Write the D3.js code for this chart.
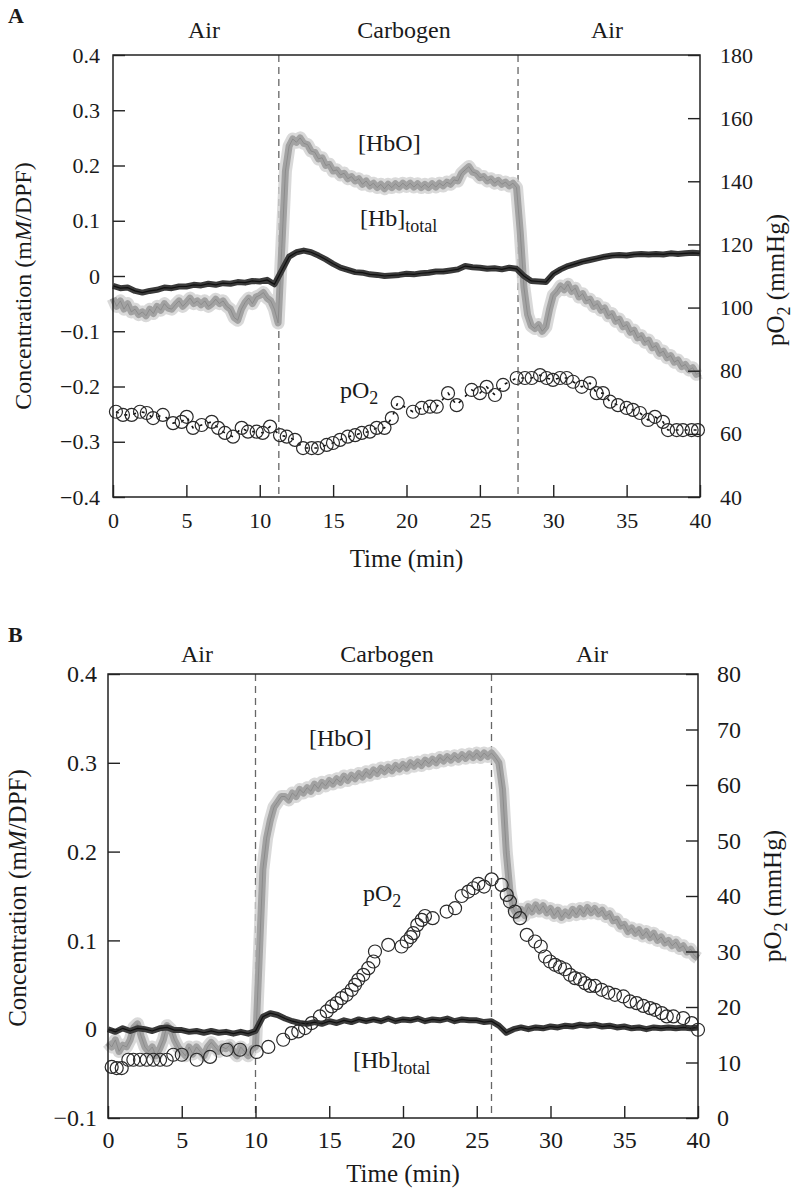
<!DOCTYPE html>
<html>
<head>
<meta charset="utf-8">
<script src="https://cdn.jsdelivr.net/npm/d3@7"></script>
<style>
html, body { margin: 0; padding: 0; background: #fff; }
svg text { font-family: "Liberation Serif", "Times New Roman", serif; fill: #1a1a1a; }
</style>
</head>
<body>
<svg id="chart" width="797" height="1192"></svg>
<script>
/*
 * Sampling intervals of the traces (min)
 */
var HBO_STEP = 0.25,
    HBT_STEP = 0.5;

/*
 * Panel A data
 */
var hboA = [
    -0.040, -0.055, -0.045, -0.060, -0.050, -0.065, -0.060, -0.070,
    -0.065, -0.072, -0.060, -0.068, -0.055, -0.062, -0.050, -0.058,
    -0.060, -0.052, -0.045, -0.055, -0.048, -0.040, -0.050, -0.045,
    -0.052, -0.045, -0.055, -0.050, -0.042, -0.050, -0.045, -0.055,
    -0.060, -0.075, -0.080, -0.060, -0.048, -0.040, -0.050, -0.038,
    -0.035, -0.030, -0.040, -0.045, -0.060, -0.085,
    0.050, 0.190, 0.235, 0.248, 0.242, 0.250, 0.240, 0.238,
    0.226, 0.224, 0.212, 0.214, 0.200, 0.202, 0.190, 0.192,
    0.183, 0.186, 0.176, 0.180, 0.172, 0.176, 0.166, 0.172,
    0.163, 0.168, 0.160, 0.166, 0.158, 0.166, 0.160, 0.167,
    0.161, 0.168, 0.162, 0.168, 0.161, 0.167, 0.160, 0.166,
    0.160, 0.167, 0.161, 0.168, 0.163, 0.170, 0.166, 0.174,
    0.172, 0.186, 0.192, 0.198, 0.188, 0.186, 0.178, 0.180,
    0.172, 0.176, 0.168, 0.173, 0.166, 0.170, 0.163, 0.168, 0.160,
    0.080, -0.020, -0.070, -0.090, -0.095, -0.088, -0.100, -0.092,
    -0.060, -0.035, -0.028, -0.018, -0.025, -0.015, -0.028, -0.022,
    -0.038, -0.032, -0.045, -0.042, -0.055, -0.050, -0.062, -0.058,
    -0.072, -0.068, -0.082, -0.078, -0.092, -0.088, -0.102, -0.098,
    -0.112, -0.108, -0.120, -0.116, -0.130, -0.126, -0.140, -0.136,
    -0.148, -0.144, -0.156, -0.152, -0.164, -0.160, -0.170, -0.166,
    -0.178, -0.175
];
var hbtA = [
    -0.018, -0.022, -0.021, -0.027, -0.030, -0.027, -0.025, -0.021,
    -0.022, -0.019, -0.019, -0.016, -0.017, -0.014, -0.016, -0.013,
    -0.014, -0.011, -0.012, -0.009, -0.010, -0.007, -0.015,
    0.010, 0.035, 0.043, 0.046, 0.043, 0.037, 0.030, 0.022, 0.015, 0.011,
    0.007, 0.006, 0.003, 0.002, 0.000, 0.001, 0.002, 0.004, 0.003, 0.005,
    0.006, 0.008, 0.008, 0.010, 0.012, 0.018, 0.016, 0.015, 0.013, 0.014,
    0.012, 0.015, 0.013, 0.000, -0.009, -0.010, -0.011, 0.004, 0.012, 0.018,
    0.022, 0.026, 0.029, 0.032, 0.035, 0.037, 0.038, 0.037, 0.039, 0.040,
    0.039, 0.040, 0.039, 0.041, 0.040, 0.041, 0.042, 0.041
];
var po2TimeA = [
    0.2, 0.68, 1.27, 1.84, 2.3, 2.73, 3.4, 4.09, 4.68, 5.02,
    5.45, 6.04, 6.73, 7.16, 7.63, 8.18, 8.77, 9.2, 9.79, 10.2,
    10.7, 11.38, 11.84, 12.4, 12.95, 13.54, 13.97, 14.56, 14.99, 15.47,
    16.0, 16.5, 16.95, 17.5, 17.97, 18.5, 19.0, 19.4, 20.44, 21.04,
    21.6, 22.06, 22.83, 23.42, 24.44, 25.0, 25.46, 26.03, 26.58, 27.51,
    28.07, 28.53, 29.1, 29.55, 29.98, 30.46, 30.92, 31.35, 31.94, 32.5,
    32.96, 33.39, 33.87, 34.41, 35.0, 35.43, 35.91, 36.46, 36.93, 37.48,
    37.82, 38.41, 38.84, 39.43, 39.86
];
var po2A = [
    67.0, 66.0, 66.0, 67.0, 66.6, 65.0, 66.0, 63.4, 63.8, 65.4,
    61.9, 62.8, 63.8, 61.9, 60.3, 59.1, 61.9, 60.7, 60.7, 60.3,
    62.3, 59.6, 59.1, 58.1, 55.5, 55.5, 55.5, 56.5, 57.1, 58.1,
    59.1, 59.6, 60.3, 60.7, 61.9, 61.9, 65.0, 69.8, 67.0, 68.2,
    68.6, 68.6, 72.9, 69.1, 73.9, 72.9, 74.9, 72.3, 75.5, 77.7,
    77.7, 77.7, 78.6, 77.7, 77.1, 77.7, 77.7, 76.5, 74.9, 76.1,
    72.9, 72.9, 70.2, 69.1, 68.2, 67.6, 66.6, 64.4, 65.4, 63.8,
    61.2, 61.2, 61.2, 61.2, 61.2
];
var switchA = [11.3, 27.6];

/*
 * Panel B data
 */
var hboB = [
    -0.015, -0.020, -0.012, -0.025, -0.018, -0.020, -0.012, 0.002,
    0.006, -0.008, -0.020, -0.025, -0.020, -0.030, -0.022, -0.012,
    0.004, 0.000, -0.012, -0.020, -0.025, -0.030, -0.020, -0.028,
    -0.020, -0.025, -0.030, -0.020, -0.015, -0.020, -0.025, -0.020,
    -0.022, -0.018, -0.025, -0.030, -0.020, -0.025, -0.030, -0.022,
    -0.020, 0.080, 0.180, 0.215, 0.235, 0.250, 0.256, 0.262,
    0.262, 0.258, 0.266, 0.262, 0.270, 0.266, 0.272, 0.268,
    0.276, 0.271, 0.278, 0.274, 0.280, 0.276, 0.282, 0.278,
    0.285, 0.280, 0.286, 0.282, 0.288, 0.284, 0.290, 0.286,
    0.292, 0.288, 0.294, 0.290, 0.295, 0.291, 0.297, 0.293,
    0.298, 0.294, 0.300, 0.296, 0.301, 0.297, 0.303, 0.299,
    0.304, 0.300, 0.306, 0.302, 0.307, 0.303, 0.308, 0.304,
    0.309, 0.305, 0.310, 0.306, 0.311, 0.306, 0.311, 0.307,
    0.311, 0.306,
    0.300, 0.270, 0.200, 0.155, 0.135, 0.128,
    0.135, 0.128, 0.138, 0.132, 0.140, 0.133, 0.139, 0.131,
    0.136, 0.128, 0.134, 0.126, 0.132, 0.128, 0.135, 0.129,
    0.136, 0.130, 0.137, 0.131, 0.136, 0.130, 0.134, 0.127,
    0.130, 0.122, 0.124, 0.116, 0.118, 0.110, 0.114, 0.108,
    0.112, 0.105, 0.110, 0.103, 0.108, 0.100, 0.104, 0.097,
    0.100, 0.094, 0.098, 0.091, 0.094, 0.087, 0.090, 0.083,
    0.080
];
var hbtB = [
    0.000, -0.003, 0.001, -0.002, 0.001, 0.000, -0.002, 0.001, 0.002,
    -0.001, -0.001, -0.003, -0.002, -0.004, -0.002, -0.004, -0.003,
    -0.005, -0.003, -0.005, -0.002,
    0.014, 0.018, 0.016, 0.012, 0.009, 0.007, 0.006, 0.008, 0.006, 0.009,
    0.007, 0.010, 0.008, 0.011, 0.009, 0.011, 0.009, 0.012, 0.009, 0.011,
    0.010, 0.012, 0.009, 0.011, 0.010, 0.012, 0.009, 0.011, 0.010, 0.010,
    0.008, 0.009, 0.004, -0.004, 0.000, 0.002, 0.000, 0.002, 0.001, 0.003,
    0.002, 0.004, 0.003, 0.005, 0.004, 0.005, 0.003, 0.004, 0.002, 0.003,
    0.001, 0.002, 0.000, 0.002, 0.001, 0.002, 0.001, 0.002, 0.001, 0.002
];
var po2TimeB = [
    0.25, 0.59, 0.93, 1.38, 1.72, 2.17, 2.62, 3.07, 3.53, 3.98,
    4.43, 5.0, 6.01, 6.92, 8.05, 8.95, 10.08, 10.87, 11.88, 12.45,
    12.9, 13.36, 13.81, 14.37, 14.83, 15.17, 15.5, 15.84, 16.18, 16.52,
    16.75, 16.97, 17.31, 17.65, 17.99, 18.1, 19.0, 19.9, 20.25, 20.52,
    20.7, 20.97, 21.27, 21.49, 22.01, 22.96, 23.53, 23.98, 24.43, 24.77,
    25.11, 25.49, 26.01, 26.69, 27.03, 27.25, 27.59, 27.93, 28.39, 28.95,
    29.34, 29.63, 29.97, 30.31, 30.64, 30.98, 31.32, 31.66, 32.0, 32.34,
    32.68, 33.02, 33.47, 33.92, 34.37, 34.94, 35.39, 35.84, 36.29, 36.75,
    37.08, 37.54, 37.88, 38.33, 39.0, 39.57, 40.0
];
var po2B = [
    9.2, 9.0, 9.0, 10.5, 10.5, 10.5, 10.5, 10.5, 10.5, 10.5,
    11.4, 11.4, 10.5, 11.0, 12.3, 12.3, 11.9, 12.8, 14.1, 15.3,
    15.6, 16.2, 17.1, 18.3, 19.2, 20.1, 20.7, 21.6, 22.2, 23.1,
    24.0, 24.9, 25.8, 27.0, 28.2, 30.0, 31.2, 30.9, 31.8, 32.6,
    33.3, 34.8, 35.7, 36.4, 36.0, 37.2, 37.8, 40.0, 40.8, 41.4,
    42.2, 41.7, 43.0, 42.0, 40.2, 39.0, 37.2, 36.0, 33.0, 31.8,
    30.9, 29.1, 28.2, 27.6, 27.2, 26.8, 25.8, 25.2, 25.0, 24.3,
    23.8, 23.8, 23.1, 22.6, 22.2, 21.9, 21.0, 20.7, 20.2, 19.8,
    19.5, 18.9, 18.3, 18.3, 18.0, 17.1, 15.9
];
var switchB = [10.0, 26.0];

/*
 * Axis ticks and phase names
 */
var timeTicks = [0, 5, 10, 15, 20, 25, 30, 35, 40],
    concTicksA = [-0.4, -0.3, -0.2, -0.1, 0, 0.1, 0.2, 0.3, 0.4],
    concTicksB = [-0.1, 0, 0.1, 0.2, 0.3, 0.4],
    po2TicksA = [40, 60, 80, 100, 120, 140, 160, 180],
    po2TicksB = [0, 10, 20, 30, 40, 50, 60, 70, 80],
    phaseNames = ['Air', 'Carbogen', 'Air'];

/*
 * Style
 */
var TITLE_FONT = 24,
    SUB_FONT = 18,
    TICK_LEN = 12,
    AXIS_COLOR = '#222',
    HBO_HALO = '#cfcfcf',
    HBO_BAND = '#a2a2a2',
    HBO_LINE = '#858585',
    HBT_BAND = '#3a3a3a',
    HBT_LINE = '#111',
    CIRCLE_R = 6.5;

var panels = [
    {
        letter: 'A', letterY: 23,
        left: 113, right: 700, top: 55, bottom: 497,
        concDomain: [-0.4, 0.4], concTicks: concTicksA,
        po2Domain: [40, 180], po2Ticks: po2TicksA,
        hbo: hboA, hbt: hbtA, po2Time: po2TimeA, po2: po2A, switches: switchA,
        po2Dashes: true,
        tickFont: 22, padLeft: 13, padRight: 20, padBottom: 15,
        phaseX: [204, 404, 607], phaseY: 38,
        timeY: 567, leftTitleX: 31, leftTitleY: 286, leftTitleFont: 24,
        rightTitleX: 784, rightTitleY: 280,
        hboLabel: [358, 151], hbtLabel: [360, 226], po2Label: [340, 398]
    },
    {
        letter: 'B', letterY: 642,
        left: 108, right: 698, top: 674, bottom: 1118,
        concDomain: [-0.1, 0.4], concTicks: concTicksB,
        po2Domain: [0, 80], po2Ticks: po2TicksB,
        hbo: hboB, hbt: hbtB, po2Time: po2TimeB, po2: po2B, switches: switchB,
        po2Dashes: false,
        tickFont: 24, padLeft: 11, padRight: 19, padBottom: 13,
        phaseX: [197, 387, 592], phaseY: 662,
        timeY: 1182, leftTitleX: 26, leftTitleY: 898, leftTitleFont: 25,
        rightTitleX: 781, rightTitleY: 896,
        hboLabel: [309, 746], hbtLabel: [353, 1068], po2Label: [363, 901]
    }
];

function fmtConc(d) {
    return d === 0 ? '0' : d3.format('.1f')(d);
}

function styleAxis(sel, size) {
    sel.select('.domain').remove();
    sel.attr('font-family', null)
        .attr('font-size', size)
        .attr('color', AXIS_COLOR);
    sel.selectAll('line').attr('stroke-width', 1.4);
}

function drawPanel(svg, p) {
    var x = d3.scaleLinear().domain([0, 40]).range([p.left, p.right]),
        yL = d3.scaleLinear().domain(p.concDomain).range([p.bottom, p.top]),
        yR = d3.scaleLinear().domain(p.po2Domain).range([p.bottom, p.top]);

    var g = svg.append('g');

    // gas switch markers
    g.selectAll('line.switch')
        .data(p.switches)
        .enter().append('line')
        .attr('class', 'switch')
        .attr('x1', function (d) { return x(d); })
        .attr('x2', function (d) { return x(d); })
        .attr('y1', p.top)
        .attr('y2', p.bottom)
        .attr('stroke', '#666')
        .attr('stroke-width', 1.3)
        .attr('stroke-dasharray', '7,5');

    var hboLine = d3.line()
        .x(function (d, i) { return x(i * HBO_STEP); })
        .y(function (d) { return yL(d); });
    var hbtLine = d3.line()
        .x(function (d, i) { return x(i * HBT_STEP); })
        .y(function (d) { return yL(d); });

    // [HbO] trace: faint halo, light band and a darker noisy core
    g.append('path').attr('d', hboLine(p.hbo))
        .attr('fill', 'none').attr('stroke', HBO_HALO)
        .attr('stroke-width', 13).attr('stroke-linejoin', 'round')
        .attr('opacity', 0.8);
    g.append('path').attr('d', hboLine(p.hbo))
        .attr('fill', 'none').attr('stroke', HBO_BAND)
        .attr('stroke-width', 7).attr('stroke-linejoin', 'round');
    g.append('path').attr('d', hboLine(p.hbo))
        .attr('fill', 'none').attr('stroke', HBO_LINE)
        .attr('stroke-width', 0.8);

    // [Hb]total trace
    g.append('path').attr('d', hbtLine(p.hbt))
        .attr('fill', 'none').attr('stroke', HBT_BAND)
        .attr('stroke-width', 6).attr('stroke-linejoin', 'round');
    g.append('path').attr('d', hbtLine(p.hbt))
        .attr('fill', 'none').attr('stroke', HBT_LINE)
        .attr('stroke-width', 1.2);

    // pO2 readings
    var pts = p.po2Time.map(function (t, i) { return [t, p.po2[i]]; });
    if (p.po2Dashes) {
        g.append('path')
            .attr('d', d3.line()
                .x(function (d) { return x(d[0]); })
                .y(function (d) { return yR(d[1]); })(pts))
            .attr('fill', 'none').attr('stroke', '#111')
            .attr('stroke-width', 1.6).attr('stroke-dasharray', '3,6');
    }
    g.selectAll('circle')
        .data(pts)
        .enter().append('circle')
        .attr('cx', function (d) { return x(d[0]); })
        .attr('cy', function (d) { return yR(d[1]); })
        .attr('r', CIRCLE_R)
        .attr('fill', 'none')
        .attr('stroke', '#2a2a2a')
        .attr('stroke-width', 1.2);

    // frame
    g.append('rect')
        .attr('x', p.left).attr('y', p.top)
        .attr('width', p.right - p.left).attr('height', p.bottom - p.top)
        .attr('fill', 'none').attr('stroke', AXIS_COLOR).attr('stroke-width', 1.5);

    // axes
    g.append('g').attr('transform', 'translate(' + p.left + ',0)')
        .call(d3.axisLeft(yL).tickValues(p.concTicks).tickFormat(fmtConc)
            .tickSize(-TICK_LEN).tickSizeOuter(0).tickPadding(p.padLeft))
        .call(styleAxis, p.tickFont);
    g.append('g').attr('transform', 'translate(' + p.right + ',0)')
        .call(d3.axisRight(yR).tickValues(p.po2Ticks).tickFormat(d3.format('d'))
            .tickSize(-TICK_LEN).tickSizeOuter(0).tickPadding(p.padRight))
        .call(styleAxis, p.tickFont);
    g.append('g').attr('transform', 'translate(0,' + p.bottom + ')')
        .call(d3.axisBottom(x).tickValues(timeTicks).tickFormat(d3.format('d'))
            .tickSize(-TICK_LEN).tickSizeOuter(0).tickPadding(p.padBottom))
        .call(styleAxis, p.tickFont);

    // panel letter and gas phases
    g.append('text').attr('x', 8).attr('y', p.letterY)
        .attr('font-size', 22).attr('font-weight', 'bold').text(p.letter);
    g.selectAll('text.phase')
        .data(phaseNames)
        .enter().append('text')
        .attr('class', 'phase')
        .attr('x', function (d, i) { return p.phaseX[i]; })
        .attr('y', p.phaseY)
        .attr('text-anchor', 'middle')
        .attr('font-size', TITLE_FONT)
        .text(function (d) { return d; });

    // axis titles
    g.append('text')
        .attr('x', (p.left + p.right) / 2).attr('y', p.timeY)
        .attr('text-anchor', 'middle').attr('font-size', 25)
        .text('Time (min)');

    var lt = g.append('text')
        .attr('transform', 'translate(' + p.leftTitleX + ',' + p.leftTitleY + ') rotate(-90)')
        .attr('text-anchor', 'middle').attr('font-size', p.leftTitleFont);
    lt.append('tspan').text('Concentration (m');
    lt.append('tspan').attr('font-style', 'italic').text('M');
    lt.append('tspan').text('/DPF)');

    var rt = g.append('text')
        .attr('transform', 'translate(' + p.rightTitleX + ',' + p.rightTitleY + ') rotate(-90)')
        .attr('text-anchor', 'middle').attr('font-size', 25);
    rt.append('tspan').text('pO');
    rt.append('tspan').attr('font-size', SUB_FONT).attr('dy', 6).text('2');
    rt.append('tspan').attr('dy', -6).text(' (mmHg)');

    // series labels
    g.append('text').attr('x', p.hboLabel[0]).attr('y', p.hboLabel[1])
        .attr('font-size', TITLE_FONT).text('[HbO]');

    var ht = g.append('text').attr('x', p.hbtLabel[0]).attr('y', p.hbtLabel[1])
        .attr('font-size', TITLE_FONT);
    ht.append('tspan').text('[Hb]');
    ht.append('tspan').attr('font-size', SUB_FONT).attr('dy', 6).text('total');

    var pt = g.append('text').attr('x', p.po2Label[0]).attr('y', p.po2Label[1])
        .attr('font-size', TITLE_FONT);
    pt.append('tspan').text('pO');
    pt.append('tspan').attr('font-size', SUB_FONT).attr('dy', 6).text('2');
}

(function () {
    var svg = d3.select('#chart');
    panels.forEach(function (p) { drawPanel(svg, p); });
})();
</script>
</body>
</html>
